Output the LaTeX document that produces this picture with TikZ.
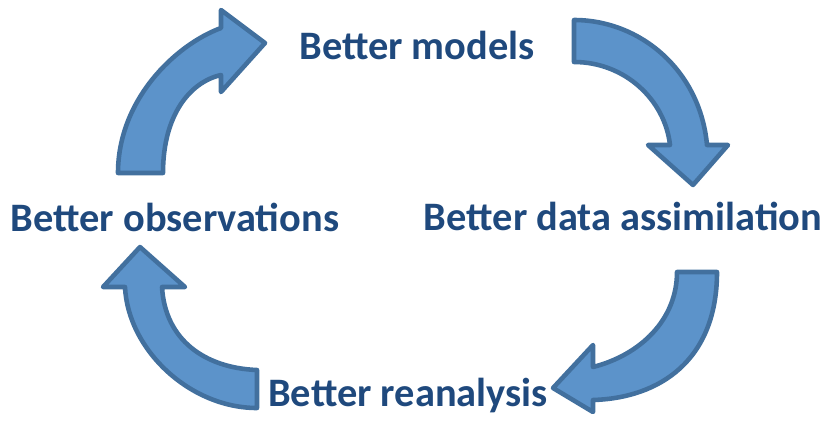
\documentclass[tikz,border=0pt]{standalone}
\usepackage{fontspec}
\setmainfont{Carlito}

\definecolor{flecheFond}{RGB}{92,147,202}
\definecolor{flecheBord}{RGB}{66,112,158}
\definecolor{texteBleu}{RGB}{31,73,125}

\begin{document}
\begin{tikzpicture}[x=0.02cm, y=-0.02cm,
  fleche/.style={fill=flecheFond, draw=flecheBord, line width=2.6pt, line join=round},
  etape/.style={text=texteBleu, font=\fontsize{23}{27}\selectfont\bfseries, anchor=base, inner sep=0pt}]

  \useasboundingbox (0,0) rectangle (827,423);

  % ==========================================
  % LES QUATRE ÉTAPES DU CYCLE
  % ==========================================
  \node[etape] (models) at (417,59) {Better models};
  \node[etape] (assim)  at (623,230) {Better data assimilation};
  \node[etape] (reanal) at (408,406) {Better reanalysis};
  \node[etape] (obs)    at (175,231) {Better observations};

  % ==========================================
  % FLÈCHES COURBES ENTRE LES ÉTAPES
  % ==========================================
  % obs -> models (en haut à gauche)
  \draw[fleche] (118,173) .. controls (118,100) and (175,45) .. (221,28)
    -- (221,10) -- (265,43) -- (221,92) -- (221,75)
    .. controls (190,82) and (163,115) .. (163,173) -- cycle;

  % models -> assim (en haut à droite)
  \draw[fleche] (574,20) .. controls (640,20) and (700,70) .. (707,145)
    -- (728,145) -- (693,185) -- (648,145) -- (670,145)
    .. controls (665,100) and (625,62) .. (574,62) -- cycle;

  % assim -> reanal (en bas à droite)
  \draw[fleche] (717,272) .. controls (717,360) and (660,398) .. (593,400)
    -- (593,412) -- (553,388) -- (593,345) -- (593,367)
    .. controls (640,355) and (677,320) .. (677,272) -- cycle;

  % reanal -> obs (en bas à gauche)
  \draw[fleche] (257,408) .. controls (190,408) and (128,350) .. (125,287)
    -- (103,287) -- (140,247) -- (185,287) -- (162,287)
    .. controls (165,340) and (205,368) .. (257,370) -- cycle;

\end{tikzpicture}
\end{document}
